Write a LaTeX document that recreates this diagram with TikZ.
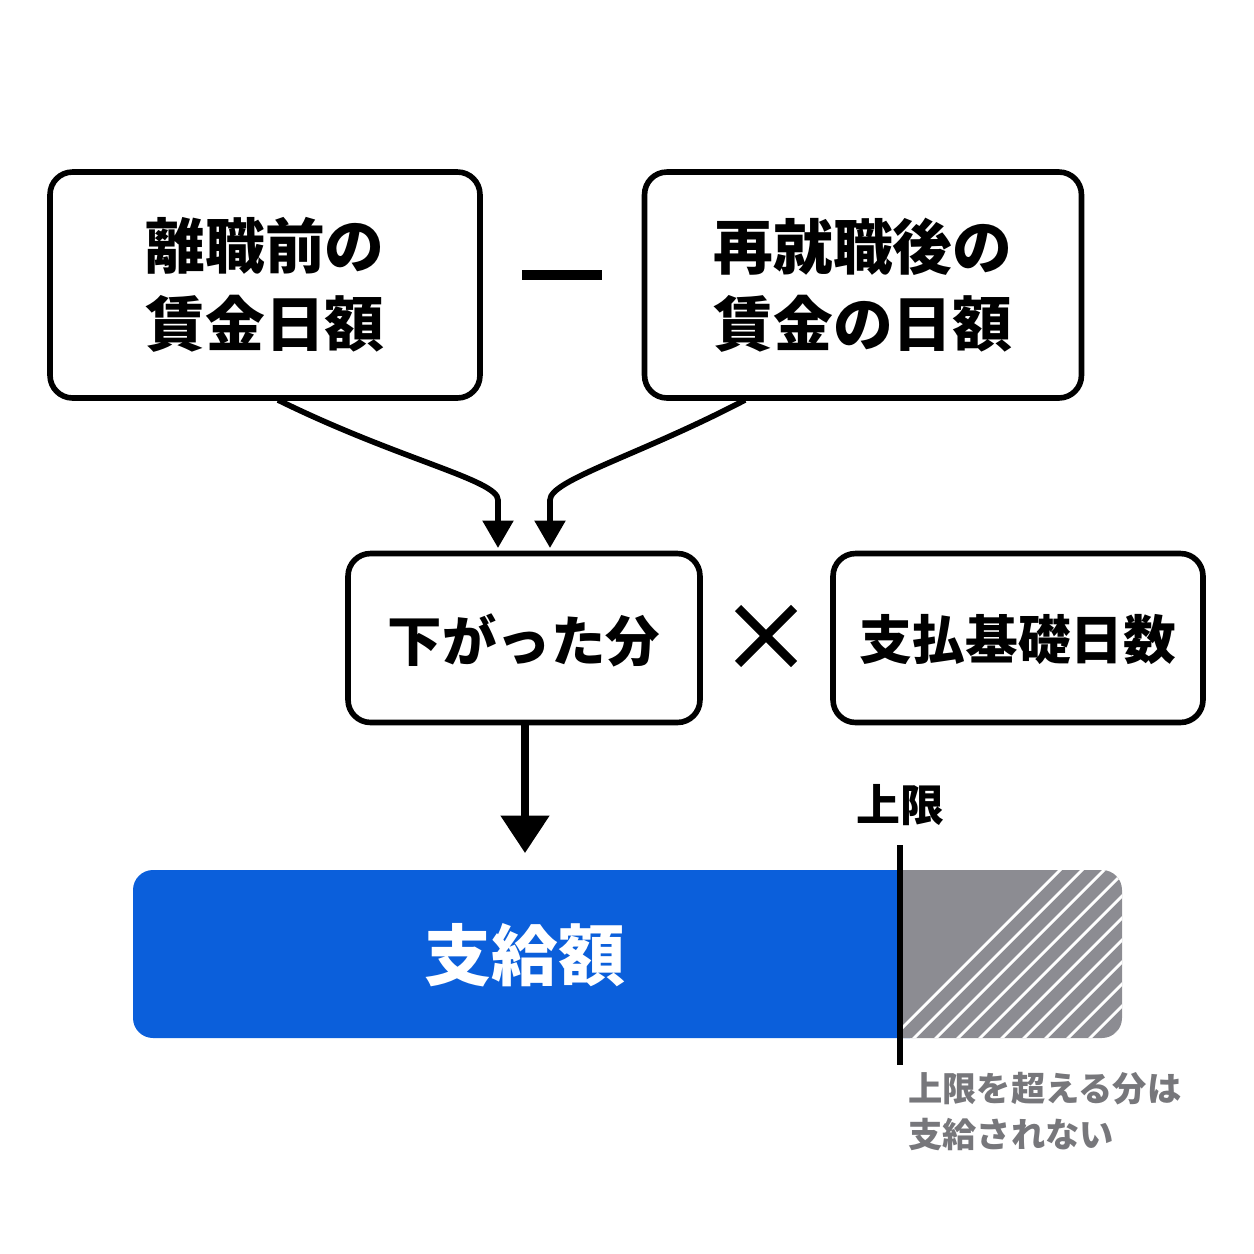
\documentclass[tikz,border=0pt]{standalone}
\usepackage{fontspec}
\newfontfamily\cjk{Noto Sans CJK JP}
\usetikzlibrary{arrows.meta}
\definecolor{bblue}{HTML}{0B5FDB}
\definecolor{hgray}{HTML}{8C8C92}
\definecolor{tgray}{HTML}{77777B}
\begin{document}
\begin{tikzpicture}[x=0.02cm,y=-0.02cm,
 box/.style={draw,line width=5.5px*0.02cm/1pt*1pt,rounded corners=0.45cm,inner sep=0},
 lbl/.style={font=\cjk\bfseries\fontsize{34}{44}\selectfont,align=center},
 conn/.style={line width=3.5pt,-{Triangle[length=0.6cm,width=0.55cm]}}]
\useasboundingbox (0,0) rectangle (1254,1254);
\tikzset{box/.style={draw,line width=3.2pt,rounded corners=0.45cm}}
\node[box,minimum width=8.6cm,minimum height=4.52cm] (b1) at (265,285) {};
\node[lbl] (t1) at (265,285) {離職前の\\賃金日額};
\node[box,minimum width=8.74cm,minimum height=4.52cm] (b2) at (863,285) {};
\node[lbl] (t2) at (863,285) {再就職後の\\賃金の日額};
\coordinate (m1) at (522,275); \coordinate (m2) at (602,275);
\draw[line width=5.5pt] (m1) -- (m2);
\node[box,minimum width=7.04cm,minimum height=3.38cm] (b3) at (524,638) {};
\node[lbl,font=\cjk\bfseries\fontsize{31}{40}\selectfont] (t3) at (524,640) {下がった分};
\node[box,minimum width=7.4cm,minimum height=3.38cm] (b4) at (1018,638) {};
\node[lbl,font=\cjk\bfseries\fontsize{30}{40}\selectfont] (t4) at (1018,640) {支払基礎日数};
\coordinate (x1) at (738,608); \coordinate (x2) at (794,664);
\coordinate (x3) at (738,664); \coordinate (x4) at (794,608);
\draw[line width=5pt] (x1)--(x2) (x3)--(x4);
\coordinate (c1) at (278,400); \coordinate (c2) at (745,400);
\draw[line width=3.2pt,-{Triangle[length=0.55cm,width=0.6cm]}] (c1) .. controls (400,460) and (498,480) .. (498,500) -- (498,548);
\draw[line width=3.2pt,-{Triangle[length=0.55cm,width=0.6cm]}] (c2) .. controls (640,455) and (550,480) .. (550,500) -- (550,548);
\coordinate (a1) at (525,724); \coordinate (a2) at (525,853);
\draw[line width=4pt,-{Triangle[length=0.75cm,width=0.95cm]}] (a1) -- (a2);
% bar
\fill[bblue,rounded corners=0.4cm] (133,870) rectangle (930,1038);
\fill[bblue] (880,870) rectangle (900,1038);
\begin{scope}
\clip[rounded corners=0.4cm] (870,870) rectangle (1122,1038);
\clip (900,860) rectangle (1130,1050);
\fill[hgray] (880,860) rectangle (1130,1050);
\foreach \i in {0,...,22} \draw[white,line width=1.6pt] (880+\i*22,1050) -- (880+\i*22+190,860);
\end{scope}
\node[font=\cjk\bfseries\fontsize{38}{44}\selectfont,text=white] (t5) at (525,955) {支給額};
\coordinate (v1) at (900,845); \coordinate (v2) at (900,1065);
\draw[line width=3.5pt] (v1)--(v2);
\node[font=\cjk\bfseries\fontsize{25}{30}\selectfont] (t6) at (900,805) {上限};
\node[font=\cjk\bfseries\fontsize{19.5}{26}\selectfont,text=tgray,align=left,anchor=north west,inner sep=0] (t7) at (908,1072) {上限を超える分は\\支給されない};
\end{tikzpicture}
\end{document}
